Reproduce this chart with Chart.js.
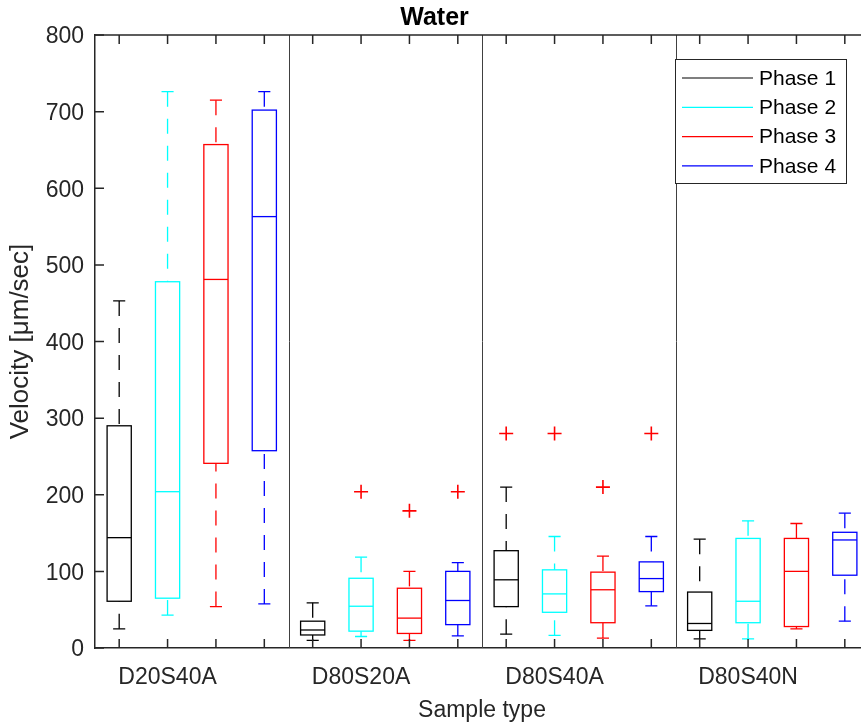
<!DOCTYPE html>
<html>
<head>
<meta charset="utf-8">
<script src="https://cdn.jsdelivr.net/npm/chart.js@4.4.0/dist/chart.umd.min.js"></script>
<style>
  html, body { margin: 0; padding: 0; background: #fff; overflow: hidden; }
  #wrap { width: 861px; height: 724px; overflow: hidden; }
</style>
</head>
<body>
<div id="wrap"><canvas id="myChart" width="880" height="724"></canvas></div>
<script>
var categories = ['D20S40A', 'D80S20A', 'D80S40A', 'D80S40N'];
var phases = ['Phase 1', 'Phase 2', 'Phase 3', 'Phase 4'];
var phaseColors = ['#000000', '#00ffff', '#ff0000', '#0000ff'];

// one row per phase, one value per category
var lowWhisker  = [[25, 10, 18, 12], [43, 15, 16.6, 12], [54, 10, 13, 25], [57.5, 15.7, 55, 35]];
var q1          = [[61, 17, 54, 23], [65, 22, 46.6, 33], [241, 19, 33, 28], [257.5, 30.5, 73.6, 95]];
var median      = [[144, 23.5, 89, 32], [204, 54.5, 70.6, 61], [481, 39, 76, 100], [563, 62, 90.6, 141]];
var q3          = [[290, 35, 127, 73], [478, 91, 102, 143], [657, 78, 99, 143], [702, 100, 112.4, 151]];
var highWhisker = [[453, 59, 210, 142], [726, 118.5, 145.5, 166], [715, 100, 120, 162.5], [726, 111.5, 145.5, 176]];

var outlierCategory = [1, 1, 1, 2, 2, 2, 2];
var outlierPhase    = [1, 2, 3, 0, 1, 2, 3];
var outlierValue    = [204, 179, 204, 280, 280, 210, 280];

var yTicks = [0, 100, 200, 300, 400, 500, 600, 700, 800];

var FONT = "'Liberation Sans', Arial, sans-serif";
var AXIS = '#262626';

function pos(cat, ph) { return cat * 4 + ph + 1; }

var positions = [];
for (var c = 0; c < categories.length; c++) {
  for (var p = 0; p < phases.length; p++) positions.push(pos(c, p));
}

var outliers = outlierValue.map(function (v, i) {
  return { x: pos(outlierCategory[i], outlierPhase[i]), y: v };
});

var boxPlugin = {
  id: 'boxes',
  beforeDatasetsDraw: function (chart) {
    var ctx = chart.ctx, x = chart.scales.x, y = chart.scales.y, a = chart.chartArea;
    ctx.save();
    // group separators
    ctx.strokeStyle = '#404040';
    ctx.lineWidth = 1;
    [4.5, 8.5, 12.5].forEach(function (s) {
      var px = Math.round(x.getPixelForValue(s)) + 0.5;
      ctx.beginPath(); ctx.moveTo(px, a.top); ctx.lineTo(px, a.bottom); ctx.stroke();
    });
    for (var p = 0; p < phases.length; p++) {
      for (var c = 0; c < categories.length; c++) {
        var xc = x.getPixelForValue(pos(c, p));
        var xl = x.getPixelForValue(pos(c, p) - 0.25);
        var xr = x.getPixelForValue(pos(c, p) + 0.25);
        var cl = x.getPixelForValue(pos(c, p) - 0.125);
        var cr = x.getPixelForValue(pos(c, p) + 0.125);
        var yLo = y.getPixelForValue(lowWhisker[p][c]);
        var yQ1 = y.getPixelForValue(q1[p][c]);
        var yMd = y.getPixelForValue(median[p][c]);
        var yQ3 = y.getPixelForValue(q3[p][c]);
        var yHi = y.getPixelForValue(highWhisker[p][c]);
        ctx.strokeStyle = phaseColors[p];
        ctx.lineWidth = 1.3;
        // whiskers, dashed, starting from the caps
        ctx.setLineDash([15, 12]);
        ctx.beginPath(); ctx.moveTo(xc, yHi); ctx.lineTo(xc, yQ3); ctx.stroke();
        ctx.beginPath(); ctx.moveTo(xc, yLo); ctx.lineTo(xc, yQ1); ctx.stroke();
        ctx.setLineDash([]);
        // caps
        ctx.beginPath();
        ctx.moveTo(cl, yHi); ctx.lineTo(cr, yHi);
        ctx.moveTo(cl, yLo); ctx.lineTo(cr, yLo);
        ctx.stroke();
        // box and median
        ctx.strokeRect(xl, yQ3, xr - xl, yQ1 - yQ3);
        ctx.beginPath(); ctx.moveTo(xl, yMd); ctx.lineTo(xr, yMd); ctx.stroke();
      }
    }
    ctx.restore();
  },
  afterDraw: function (chart) {
    var ctx = chart.ctx, x = chart.scales.x, y = chart.scales.y, a = chart.chartArea;
    ctx.save();
    ctx.strokeStyle = AXIS;
    ctx.lineWidth = 1.5;
    // top border
    ctx.beginPath(); ctx.moveTo(a.left, a.top); ctx.lineTo(a.right, a.top); ctx.stroke();
    // inward ticks
    ctx.beginPath();
    positions.forEach(function (v) {
      var px = x.getPixelForValue(v);
      ctx.moveTo(px, a.bottom); ctx.lineTo(px, a.bottom - 9);
      ctx.moveTo(px, a.top); ctx.lineTo(px, a.top + 9);
    });
    yTicks.forEach(function (v) {
      var py = y.getPixelForValue(v);
      ctx.moveTo(a.left, py); ctx.lineTo(a.left + 9, py);
    });
    ctx.stroke();

    // legend
    var lx = 675, ly = 59, lw = 171, lh = 124;
    ctx.fillStyle = '#ffffff';
    ctx.fillRect(lx, ly, lw, lh);
    ctx.lineWidth = 1;
    ctx.strokeStyle = AXIS;
    ctx.strokeRect(lx + 0.5, ly + 0.5, lw, lh);
    ctx.font = '21px ' + FONT;
    ctx.textBaseline = 'middle';
    ctx.textAlign = 'left';
    phases.forEach(function (name, i) {
      var ry = ly + 19 + i * 29.3;
      ctx.strokeStyle = phaseColors[i];
      ctx.lineWidth = 1.2;
      ctx.beginPath(); ctx.moveTo(lx + 7, ry); ctx.lineTo(lx + 78, ry); ctx.stroke();
      ctx.fillStyle = '#000000';
      ctx.fillText(name, lx + 84, ry + 1);
    });
    ctx.restore();
  }
};

new Chart(document.getElementById('myChart'), {
  type: 'scatter',
  data: {
    datasets: [{
      label: 'Outliers',
      data: outliers,
      pointStyle: 'cross',
      pointRadius: 7,
      pointHoverRadius: 7,
      borderColor: '#ff0000',
      backgroundColor: '#ff0000',
      borderWidth: 1.6
    }]
  },
  plugins: [boxPlugin],
  options: {
    responsive: false,
    animation: false,
    layout: { padding: { left: 0, right: 11, top: 0, bottom: 0 } },
    plugins: {
      legend: { display: false },
      tooltip: { enabled: false },
      title: {
        display: true,
        text: 'Water',
        color: '#000000',
        font: { family: FONT, size: 25, weight: 'bold' },
        padding: { top: 3, bottom: 2 }
      }
    },
    scales: {
      x: {
        type: 'linear',
        min: 0.5,
        max: 16.5,
        afterBuildTicks: function (s) {
          s.ticks = positions.map(function (v) { return { value: v }; });
        },
        afterFit: function (s) { s.height = 76; },
        ticks: {
          autoSkip: false,
          maxRotation: 0,
          padding: 16,
          color: AXIS,
          font: { family: FONT, size: 23 },
          callback: function (v) {
            return (v - 2) % 4 === 0 ? categories[(v - 2) / 4] : '';
          }
        },
        grid: { display: false, drawTicks: false },
        border: { display: true, color: AXIS, width: 1.5 },
        title: {
          display: true,
          text: 'Sample type',
          color: AXIS,
          font: { family: FONT, size: 23 },
          padding: { top: 0, bottom: 0 }
        }
      },
      y: {
        min: 0,
        max: 800,
        afterBuildTicks: function (s) {
          s.ticks = yTicks.map(function (v) { return { value: v }; });
        },
        afterFit: function (s) { s.width = 95; },
        ticks: {
          padding: 11,
          labelOffset: 2,
          color: AXIS,
          font: { family: FONT, size: 23 }
        },
        grid: { display: false, drawTicks: false },
        border: { display: true, color: AXIS, width: 1.5 },
        title: {
          display: true,
          text: 'Velocity [μm/sec]',
          color: AXIS,
          font: { family: FONT, size: 26 },
          padding: { top: 5, bottom: 0 }
        }
      }
    }
  }
});
</script>
</body>
</html>
